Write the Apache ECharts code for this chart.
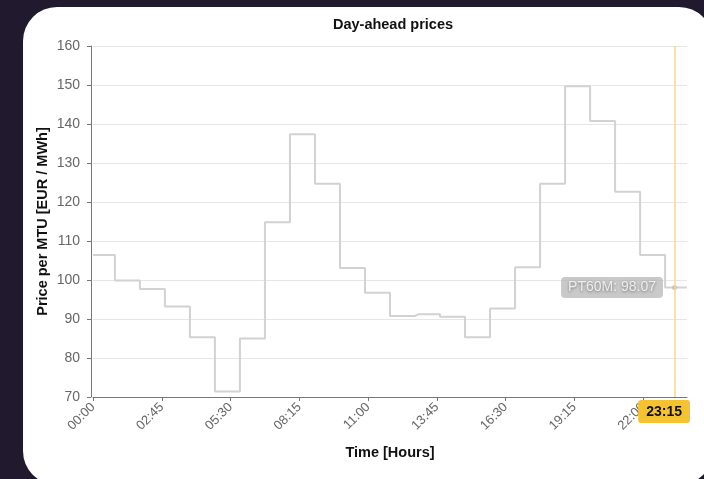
<!DOCTYPE html>
<html>
<head>
<meta charset="utf-8">
<script src="https://cdn.jsdelivr.net/npm/echarts@6/dist/echarts.min.js"></script>
<style>
  html, body { margin: 0; padding: 0; width: 704px; height: 479px; overflow: hidden; background: #211a2e; }
  .panel { position: absolute; left: 23px; top: 7px; width: 690px; height: 478px; background: #fff; border-radius: 34px; }
  #chart { position: absolute; left: 0; top: 0; width: 690px; height: 479px; }
</style>
</head>
<body>
<div class="panel"></div>
<div id="chart"></div>
<script>
// hourly day-ahead prices (EUR / MWh), one value per hour
const hourlyPrices = [106.4, 99.9, 97.7, 93.2, 85.3, 71.4, 85.0, 114.8, 137.4, 124.7, 103.1, 96.7,
  90.8, 91.2, 90.6, 85.3, 92.7, 103.3, 124.7, 149.7, 140.8, 122.6, 106.4, 98.07]
const seriesName = 'PT60M'
const titleText = 'Day-ahead prices'
const yName = 'Price per MTU [EUR / MWh]'
const xName = 'Time [Hours]'
const currentTime = '23:15'

// quarter-hour categories 00:00 .. 23:45
const times = []
for (let h = 0; h < 24; h++) {
  for (let m = 0; m < 60; m += 15) {
    times.push(String(h).padStart(2, '0') + ':' + String(m).padStart(2, '0'))
  }
}
// each quarter carries the price of its hour
const quarterValues = []
hourlyPrices.forEach(p => { for (let q = 0; q < 4; q++) quarterValues.push(p) })

const currentIdx = times.indexOf(currentTime)

const chart = echarts.init(document.getElementById('chart'))
chart.setOption({
  animation: false,
  textStyle: { fontFamily: 'Liberation Sans' },
  title: {
    text: titleText,
    left: 388,
    top: 12,
    textAlign: 'center',
    textStyle: { fontSize: 14.5, fontWeight: 'bold', color: '#111', fontFamily: 'Liberation Sans' }
  },
  grid: { left: 93, right: 3, top: 46, bottom: 82 },
  xAxis: {
    type: 'category',
    data: times,
    boundaryGap: false,
    name: xName,
    nameLocation: 'middle',
    nameGap: 48,
    nameTextStyle: { fontSize: 14.5, fontWeight: 'bold', color: '#111' },
    axisLine: { lineStyle: { color: '#777' } },
    axisTick: { interval: 10, length: 4, lineStyle: { color: '#777' } },
    axisLabel: { interval: 10, rotate: 45, color: '#666', fontSize: 13, margin: 8 },
    splitLine: { show: false },
    axisPointer: {
      show: true,
      type: 'line',
      value: currentTime,
      status: 'show',
      triggerTooltip: false,
      lineStyle: { color: '#f7d98a', width: 1.5, type: 'solid' },
      label: {
        show: true,
        backgroundColor: '#f5c232',
        color: '#111',
        fontWeight: 'bold',
        fontSize: 14,
        padding: [5, 8, 4, 8],
        margin: 3
      },
      handle: { show: false }
    }
  },
  yAxis: {
    type: 'value',
    min: 70,
    max: 160,
    interval: 10,
    offset: 2,
    name: yName,
    nameLocation: 'middle',
    nameGap: 41,
    nameMoveOverlap: false,
    nameTextStyle: { fontSize: 14.5, fontWeight: 'bold', color: '#111' },
    axisLine: { show: true, lineStyle: { color: '#777' } },
    axisTick: { show: true, length: 4, lineStyle: { color: '#777' } },
    axisLabel: { color: '#666', fontSize: 14, margin: 11 },
    splitLine: { lineStyle: { color: '#e6e6e6' } }
  },
  series: [{
    name: seriesName,
    type: 'line',
    step: 'middle',
    data: quarterValues,
    symbol: 'none',
    lineStyle: { color: '#d2d2d2', width: 2 },
    itemStyle: { color: '#d2d2d2' }
  }, {
    // current quarter marker with its price label
    name: seriesName,
    type: 'scatter',
    data: [[currentTime, quarterValues[currentIdx]]],
    symbol: 'circle',
    symbolSize: 5,
    itemStyle: { color: '#bdbdbd' },
    z: 5,
    label: {
      show: true,
      position: 'left',
      distance: 9,
      formatter: p => p.seriesName + ': ' + p.value[1],
      color: '#fff',
      fontSize: 14,
      backgroundColor: '#bcbcbc',
      borderRadius: 4,
      padding: [4, 7, 3, 7],
      textShadowColor: 'rgba(0,0,0,0.55)',
      textShadowBlur: 3,
      textShadowOffsetY: 1
    }
  }]
})
</script>
</body>
</html>
